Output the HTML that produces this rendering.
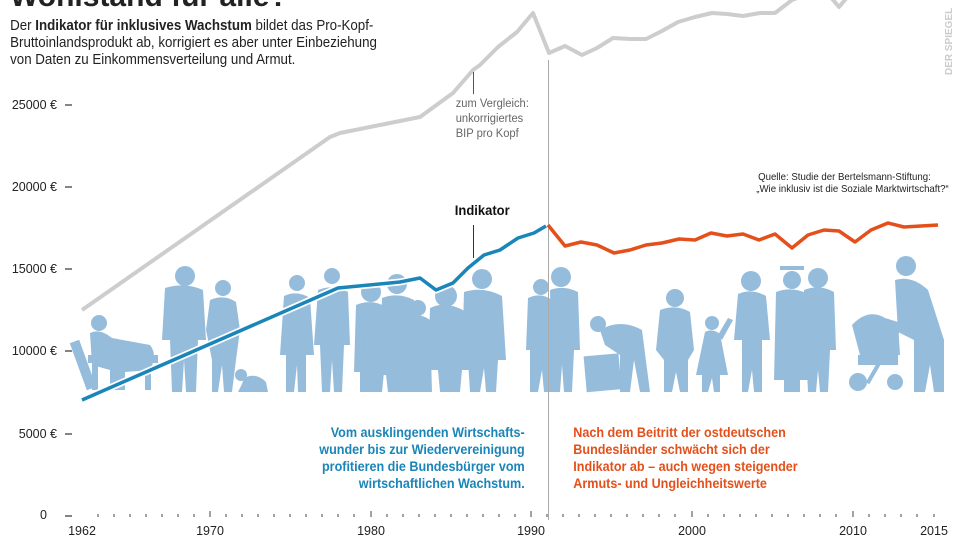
<!DOCTYPE html>
<html><head><meta charset="utf-8"><style>
html,body{margin:0;padding:0;background:#fff;width:960px;height:540px;overflow:hidden}
svg{display:block}
text{font-family:"Liberation Sans",sans-serif}
</style></head><body>
<svg width="960" height="540" viewBox="0 0 960 540" xmlns="http://www.w3.org/2000/svg">
<rect width="960" height="540" fill="#fff"/>
<text x="10" y="6" font-size="30" font-weight="bold" fill="#222">Wohlstand für alle?</text>
<g font-size="14.5" fill="#222" transform="scale(0.92,1)">
<text x="11" y="30">Der <tspan font-weight="bold">Indikator für inklusives Wachstum</tspan> bildet das Pro-Kopf-</text>
<text x="11" y="47">Bruttoinlandsprodukt ab, korrigiert es aber unter Einbeziehung</text>
<text x="11" y="64">von Daten zu Einkommensverteilung und Armut.</text>
</g>
<text transform="translate(952,75) rotate(-90)" font-size="10" fill="#ccc" font-weight="bold">DER SPIEGEL</text>

<g fill="#96bcdc">
<rect x="78" y="340" width="10" height="50" transform="rotate(-20 83 365)"/>
<rect x="88" y="355" width="70" height="8"/>
<rect x="92" y="362" width="6" height="28"/><rect x="145" y="362" width="6" height="28"/>
<circle cx="99" cy="323" r="8"/>
<path d="M90 333 Q100 328 112 338 L150 345 Q158 355 150 370 L125 372 L125 390 L110 390 L110 370 L92 365 Z"/>
<circle cx="185" cy="276" r="10"/><path d="M165 288 Q185 282 203 290 L206 340 L198 340 L196 392 L186 392 L184 360 L182 392 L172 392 L170 340 L162 340 Z"/>
<circle cx="223" cy="288" r="8"/><path d="M210 300 Q224 294 236 302 L240 330 L236 360 L232 392 L224 392 L222 365 L218 392 L212 392 L212 360 L206 330 Z"/>
<circle cx="241" cy="375" r="6"/><path d="M244 378 Q256 372 266 382 L268 392 L238 392 L242 384 Z"/>
<circle cx="297" cy="283" r="8"/><path d="M284 296 Q297 290 310 298 L314 355 L306 355 L306 392 L298 392 L297 365 L294 392 L286 392 L286 355 L280 355 Z"/>
<circle cx="332" cy="276" r="8"/><path d="M318 290 Q333 284 348 292 L350 345 L344 345 L342 392 L334 392 L332 360 L330 392 L322 392 L320 345 L314 345 Z"/>
<circle cx="371" cy="292" r="10"/><path d="M356 305 Q372 298 388 308 L392 372 L384 372 L382 392 L362 392 L360 372 L354 372 Z"/>
<circle cx="397" cy="284" r="10"/><path d="M382 298 Q398 292 414 300 L418 375 L410 375 L408 392 L388 392 L386 375 L380 375 Z"/>
<rect x="360" y="330" width="3" height="62"/>
<circle cx="418" cy="308" r="8"/><path d="M408 318 Q419 312 430 320 L432 392 L406 392 Z"/>
<rect x="408" y="350" width="20" height="30" rx="5"/>
<circle cx="446" cy="296" r="11"/><path d="M430 308 Q447 300 466 312 L470 370 L462 370 L460 392 L440 392 L438 370 L428 370 Z"/>
<circle cx="482" cy="279" r="10"/><path d="M464 292 Q483 286 502 296 L506 360 L498 360 L496 392 L486 392 L484 368 L480 392 L470 392 L468 360 L462 360 Z"/>
<circle cx="541" cy="287" r="8"/><path d="M528 298 Q541 292 552 300 L552 392 L544 392 L542 370 L538 392 L530 392 L530 350 L526 350 Z"/>
<circle cx="561" cy="277" r="10"/><path d="M550 290 Q564 285 578 292 L580 350 L574 350 L572 392 L564 392 L562 365 L560 392 L552 392 Z"/>
<circle cx="598" cy="324" r="8"/><path d="M600 330 Q620 318 642 330 L650 392 L640 392 L634 360 L630 392 L620 392 L620 355 L605 345 Z"/>
<rect x="585" y="355" width="35" height="36" transform="rotate(-5 600 372)"/>
<circle cx="675" cy="298" r="9"/><path d="M660 310 Q676 304 690 312 L694 350 L688 360 L688 392 L680 392 L676 372 L672 392 L664 392 L664 360 L656 350 Z"/>
<circle cx="712" cy="323" r="7"/><path d="M705 332 Q712 328 720 334 L728 375 L720 375 L720 392 L714 392 L712 378 L708 392 L702 392 L702 375 L696 375 Z"/>
<path d="M718 335 L728 318 L733 320 L722 340 Z"/>
<circle cx="751" cy="281" r="10"/><path d="M738 294 Q752 288 766 296 L770 340 L762 340 L762 392 L754 392 L752 370 L748 392 L742 392 L742 340 L734 340 Z"/>
<circle cx="792" cy="280" r="9"/><rect x="780" y="266" width="24" height="4"/><path d="M776 292 Q792 286 808 294 L810 380 L800 380 L800 392 L784 392 L784 380 L774 380 Z"/>
<circle cx="818" cy="278" r="10"/><path d="M804 290 Q819 284 834 292 L836 350 L830 350 L828 392 L820 392 L818 370 L816 392 L808 392 L806 350 L800 350 Z"/>
<path d="M852 325 Q868 308 885 318 L898 322 L900 355 L860 355 Z"/>
<rect x="858" y="355" width="40" height="10"/>
<circle cx="858" cy="382" r="9"/><circle cx="895" cy="382" r="8"/>
<rect x="872" y="360" width="4" height="25" transform="rotate(30 874 372)"/>
<circle cx="906" cy="266" r="10"/><path d="M895 280 Q912 275 928 290 L944 340 L944 392 L934 392 L930 365 L925 392 L914 392 L914 340 L898 332 Z"/>
<path d="M900 320 L892 332 L896 336 L906 326 Z"/>
</g>

<g font-size="12.5" fill="#222" text-anchor="end">
<text x="57" y="109">25000 €</text>
<text x="57" y="191">20000 €</text>
<text x="57" y="273">15000 €</text>
<text x="57" y="355">10000 €</text>
<text x="57" y="438">5000 €</text>
<text x="47" y="519">0</text>
</g>
<g stroke="#333" stroke-width="1.2">
<line x1="65" y1="105" x2="72" y2="105"/><line x1="65" y1="187" x2="72" y2="187"/>
<line x1="65" y1="269" x2="72" y2="269"/><line x1="65" y1="351" x2="72" y2="351"/>
<line x1="65" y1="434" x2="72" y2="434"/><line x1="65" y1="516" x2="72" y2="516"/>
</g>
<g stroke="#444" stroke-width="1">
<path d="M98 514v3M114 514v3M130 514v3M146 514v3M162 514v3M178 514v3M194 514v3M210 511v6M226 514v3M242 514v3M258 514v3M274 514v3M290 514v3M306 514v3M322 514v3M338 514v3M354 514v3M371 511v6M387 514v3M403 514v3M419 514v3M435 514v3M451 514v3M467 514v3M483 514v3M499 514v3M515 514v3M531 511v6M547 514v3M563 514v3M579 514v3M595 514v3M611 514v3M627 514v3M643 514v3M659 514v3M675 514v3M692 511v6M708 514v3M724 514v3M740 514v3M756 514v3M772 514v3M788 514v3M804 514v3M820 514v3M836 514v3M853 511v6M869 514v3M885 514v3M901 514v3M917 514v3M934 514v3"/>
</g>
<g font-size="12.5" fill="#222" text-anchor="middle">
<text x="82" y="535">1962</text><text x="210" y="535">1970</text><text x="371" y="535">1980</text>
<text x="531" y="535">1990</text><text x="692" y="535">2000</text><text x="853" y="535">2010</text><text x="934" y="535">2015</text>
</g>

<line x1="548.5" y1="60" x2="548.5" y2="520" stroke="#aaa" stroke-width="1"/>

<polyline fill="none" stroke="#cdcdcd" stroke-width="4" stroke-linejoin="round" points="82,310 330,137 340,133 420,117 453,93 473,70 480,65 498,47 517,32 533,13 549,53 565,46 582,55 597,48 613,38 630,39 646,39 662,31 678,22 695,17 712,13 727,14 743,16 760,13 775,13 792,0 823,-12 839,7 855,-12"/>
<line x1="473.5" y1="72" x2="473.5" y2="94" stroke="#555" stroke-width="1"/>
<g font-size="12" fill="#666" transform="scale(0.93,1)">
<text x="490" y="107">zum Vergleich:</text>
<text x="490" y="122">unkorrigiertes</text>
<text x="490" y="137">BIP pro Kopf</text>
</g>

<g transform="scale(0.93,1)"><text x="489" y="215" font-size="14" font-weight="bold" fill="#111">Indikator</text></g>
<line x1="473.5" y1="225" x2="473.5" y2="258" stroke="#333" stroke-width="1"/>
<polyline fill="none" stroke="#fff" stroke-width="7" stroke-linejoin="round" points="82,400 338,288 400,282 420,278 436,290 453,283 468,268 484,255 500,250 518,238 534,233 546,226"/>
<polyline fill="none" stroke="#1a85b8" stroke-width="3.5" stroke-linejoin="round" points="82,400 338,288 400,282 420,278 436,290 453,283 468,268 484,255 500,250 518,238 534,233 546,226"/>
<polyline fill="none" stroke="#e4501b" stroke-width="3.5" stroke-linejoin="round" points="548,225 565,246 581,242 597,245 614,253 630,250 646,245 662,243 679,239 695,240 711,233 727,236 743,234 759,240 775,234 792,248 808,235 824,230 839,231 855,242 871,230 888,223 904,227 921,226 938,225"/>

<g font-size="10.5" fill="#222" transform="scale(0.92,1)">
<text x="824" y="180">Quelle: Studie der Bertelsmann-Stiftung:</text>
<text x="822" y="192">„Wie inklusiv ist die Soziale Marktwirtschaft?“</text>
</g>

<g font-size="14" font-weight="bold" fill="#1a85b8" text-anchor="end" transform="scale(0.9,1)">
<text x="583" y="437">Vom ausklingenden Wirtschafts-</text>
<text x="583" y="454">wunder bis zur Wiedervereinigung</text>
<text x="583" y="471">profitieren die Bundesbürger vom</text>
<text x="583" y="488">wirtschaftlichen Wachstum.</text>
</g>
<g font-size="14" font-weight="bold" fill="#e4501b" transform="scale(0.9,1)">
<text x="637" y="437">Nach dem Beitritt der ostdeutschen</text>
<text x="637" y="454">Bundesländer schwächt sich der</text>
<text x="637" y="471">Indikator ab – auch wegen steigender</text>
<text x="637" y="488">Armuts- und Ungleichheitswerte</text>
</g>
</svg>
</body></html>
